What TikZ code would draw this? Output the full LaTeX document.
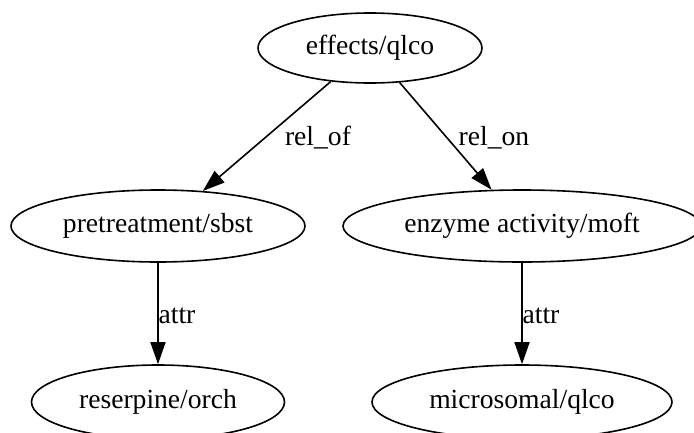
\documentclass[tikz,border=0pt]{standalone}
\usepackage{fontspec}
\setmainfont{Liberation Serif}
\usepackage{tikz}
\usetikzlibrary{arrows.meta, shapes.geometric}

\begin{document}
\begin{tikzpicture}[
      x=1pt, y=-1pt,
      concept/.style={
        draw, ellipse, line width=1.6pt, inner sep=0pt,
        minimum height=72pt, font=\fontsize{27.6}{33}\selectfont
      },
      rel/.style={font=\fontsize{27.6}{33}\selectfont, inner sep=0pt},
      link/.style={-{Triangle[length=22pt, width=15pt]}, line width=1.6pt}
    ]
      \useasboundingbox (0,0) rectangle (694,432);

      \node[concept, minimum width=224pt, minimum height=70pt] (eff) at (370,48) {effects/qlco};
      \node[concept, minimum width=294pt] (pre) at (158,226) {pretreatment/sbst};
      \node[concept, minimum width=358pt] (enz) at (522,226) {enzyme activity/moft};
      \node[concept, minimum width=253pt, minimum height=74pt] (res) at (158,402) {reserpine/orch};
      \node[concept, minimum width=300pt, minimum height=74pt] (mic) at (522,402) {microsomal/qlco};

      \draw[link] (eff) -- (pre.38);
      \draw[link] (eff) -- (enz.130);
      \draw[link] (pre) -- (res);
      \draw[link] (enz) -- (mic);

      \node[rel] (lof) at (318,138) {rel\_of};
      \node[rel] (lon) at (494,138) {rel\_on};
      \node[rel] (la1) at (177,316) {attr};
      \node[rel] (la2) at (541,316) {attr};
    \end{tikzpicture}
\end{document}
